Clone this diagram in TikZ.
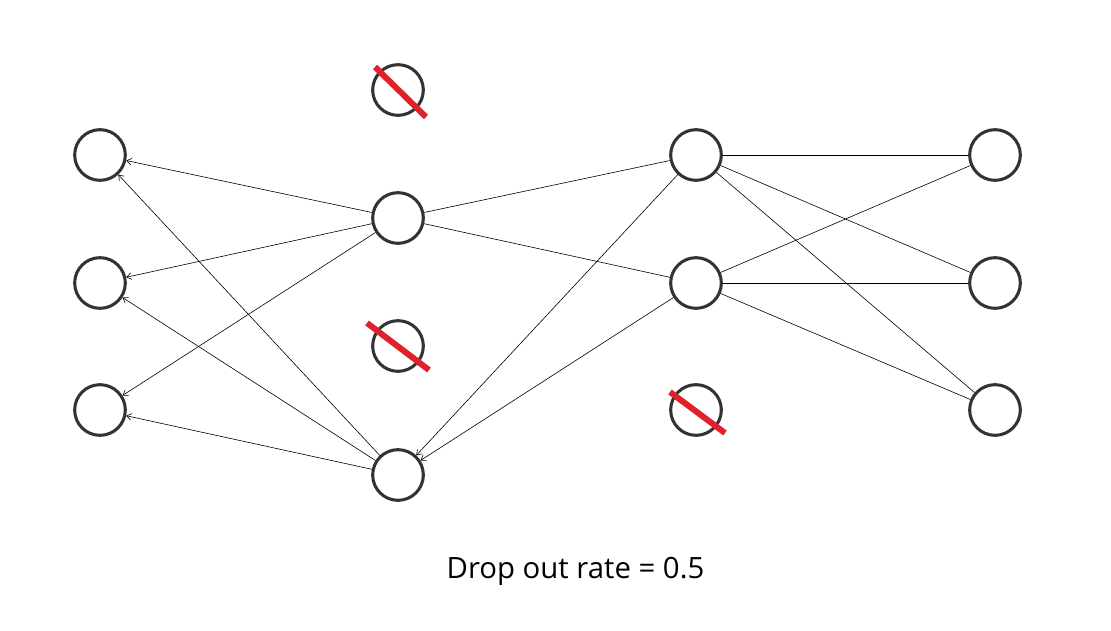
\documentclass[tikz,border=0pt]{standalone}
\usepackage{fontspec}
\setmainfont{Open Sans}
\usepackage{tikz}
\usetikzlibrary{arrows.meta,positioning}
\definecolor{ringgray}{HTML}{333333}
\definecolor{dropred}{HTML}{E0202A}

\begin{document}
\begin{tikzpicture}[
    x=0.75pt, y=-0.75pt,
    neuron/.style={circle, draw=ringgray, line width=2.3pt, fill=white, minimum size=38pt, inner sep=0pt},
    link/.style={line width=0.45pt, black},
    arrow/.style={link, -{Straight Barb[length=3.5pt,width=5pt]}},
    drop/.style={dropred, line width=4.5pt}
]
\useasboundingbox (0,0) rectangle (1111,631);

% input layer
\node[neuron] (in1) at (100,155) {};
\node[neuron] (in2) at (100,283) {};
\node[neuron] (in3) at (100,410) {};

% first hidden layer
\node[neuron] (hidA) at (398,90) {};
\node[neuron] (hidB) at (398,218) {};
\node[neuron] (hidC) at (398,346) {};
\node[neuron] (hidD) at (398,475) {};

% second hidden layer
\node[neuron] (midA) at (696,155) {};
\node[neuron] (midB) at (696,283) {};
\node[neuron] (midC) at (696,410) {};

% output layer
\node[neuron] (out1) at (995,155) {};
\node[neuron] (out2) at (995,283) {};
\node[neuron] (out3) at (995,410) {};

% hidden -> input
\draw[arrow] (hidB) -- (in1);
\draw[arrow] (hidB) -- (in2);
\draw[arrow] (hidB) -- (in3);
\draw[arrow] (hidD) -- (in1);
\draw[arrow] (hidD) -- (in2);
\draw[arrow] (hidD) -- (in3);

% between hidden layers
\draw[link] (hidB) -- (midA);
\draw[link] (hidB) -- (midB);
\draw[arrow] (midA) -- (hidD);
\draw[arrow] (midB) -- (hidD);

% second hidden -> output
\draw[link] (midA) -- (out1);
\draw[link] (midA) -- (out2);
\draw[link] (midA) -- (out3);
\draw[link] (midB) -- (out1);
\draw[link] (midB) -- (out2);
\draw[link] (midB) -- (out3);

% dropped units
\coordinate (cutA1) at (375,67);  \coordinate (cutA2) at (426,117);
\coordinate (cutC1) at (367,323); \coordinate (cutC2) at (429,370);
\coordinate (cutM1) at (670,392); \coordinate (cutM2) at (725,433);
\draw[drop] (cutA1) -- (cutA2);
\draw[drop] (cutC1) -- (cutC2);
\draw[drop] (cutM1) -- (cutM2);

\node[font=\fontsize{22}{26}\selectfont] (rate) at (575.5,571) {Drop out rate = 0.5};

\end{tikzpicture}
\end{document}
